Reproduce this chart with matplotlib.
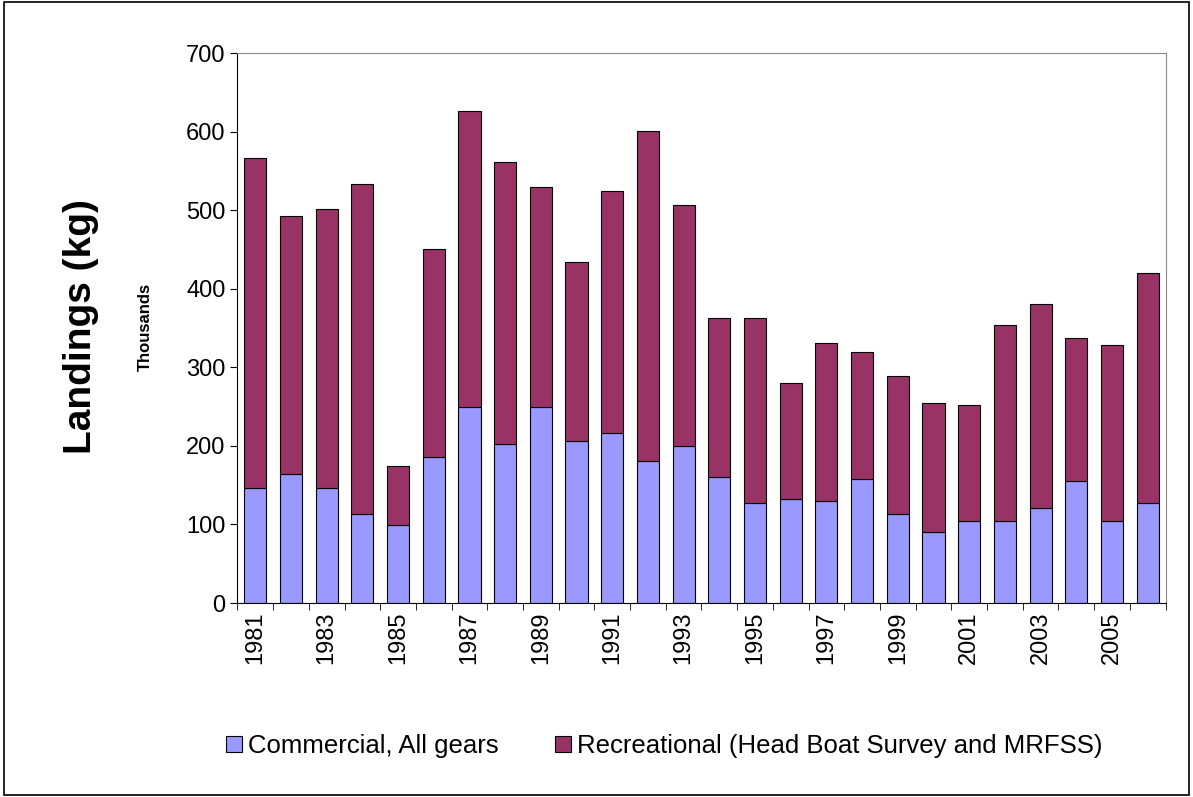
import matplotlib
matplotlib.use('Agg')
import matplotlib.pyplot as plt
from matplotlib.patches import Rectangle
import numpy as np

plt.rcParams['font.family'] = ['Liberation Sans', 'DejaVu Sans']

years = list(range(1981, 2007))
commercial = [147, 164, 147, 113, 99, 186, 249, 203, 249, 206, 217, 181, 200,
              161, 127, 132, 130, 158, 113, 90, 104, 104, 121, 155, 104, 127]
total = [567, 493, 502, 533, 175, 451, 626, 561, 530, 434, 525, 601, 507,
         363, 363, 280, 331, 320, 289, 255, 252, 354, 380, 337, 329, 420]
recreational = [t - c for t, c in zip(total, commercial)]

fig = plt.figure(figsize=(11.93, 7.97), dpi=100)
fig.patches.append(Rectangle((0.003, 0.003), 0.994, 0.994, transform=fig.transFigure,
                             fill=False, edgecolor='black', linewidth=1.2))
ax = fig.add_axes([0.199, 0.2434, 0.778, 0.690])

x = np.arange(len(years))
ax.bar(x, commercial, width=0.62, color='#9999FF', edgecolor='black', linewidth=0.8,
       label='Commercial, All gears')
ax.bar(x, recreational, bottom=commercial, width=0.62, color='#993366',
       edgecolor='black', linewidth=0.8,
       label='Recreational (Head Boat Survey and MRFSS)')

ax.set_xlim(-0.5, len(years) - 0.5)
ax.set_ylim(0, 700)
ax.set_yticks(range(0, 701, 100))
ax.tick_params(axis='y', labelsize=17, direction='out', length=5)
ax.set_xticks(x[::2])
ax.set_xticklabels([str(y) for y in years[::2]], rotation=90, fontsize=17)
ax.set_xticks(np.arange(-0.5, len(years), 1), minor=True)
ax.tick_params(axis='x', which='major', length=0, pad=6)
ax.tick_params(axis='x', which='minor', length=5, direction='out')

for side in ['top', 'right']:
    ax.spines[side].set_color('#888888')
for side in ['left', 'bottom']:
    ax.spines[side].set_color('black')

fig.text(0.068, 0.59, 'Landings (kg)', rotation=90, fontsize=28, fontweight='bold',
         ha='center', va='center')
fig.text(0.122, 0.59, 'Thousands', rotation=90, fontsize=12, fontweight='bold',
         ha='center', va='center')

fig.legend(loc='lower center', bbox_to_anchor=(0.557, 0.02), ncol=2, frameon=False,
           fontsize=18.5, handlelength=0.6, handleheight=0.6, handletextpad=0.25,
           columnspacing=2.2)

fig.savefig('out.png', dpi=100)
